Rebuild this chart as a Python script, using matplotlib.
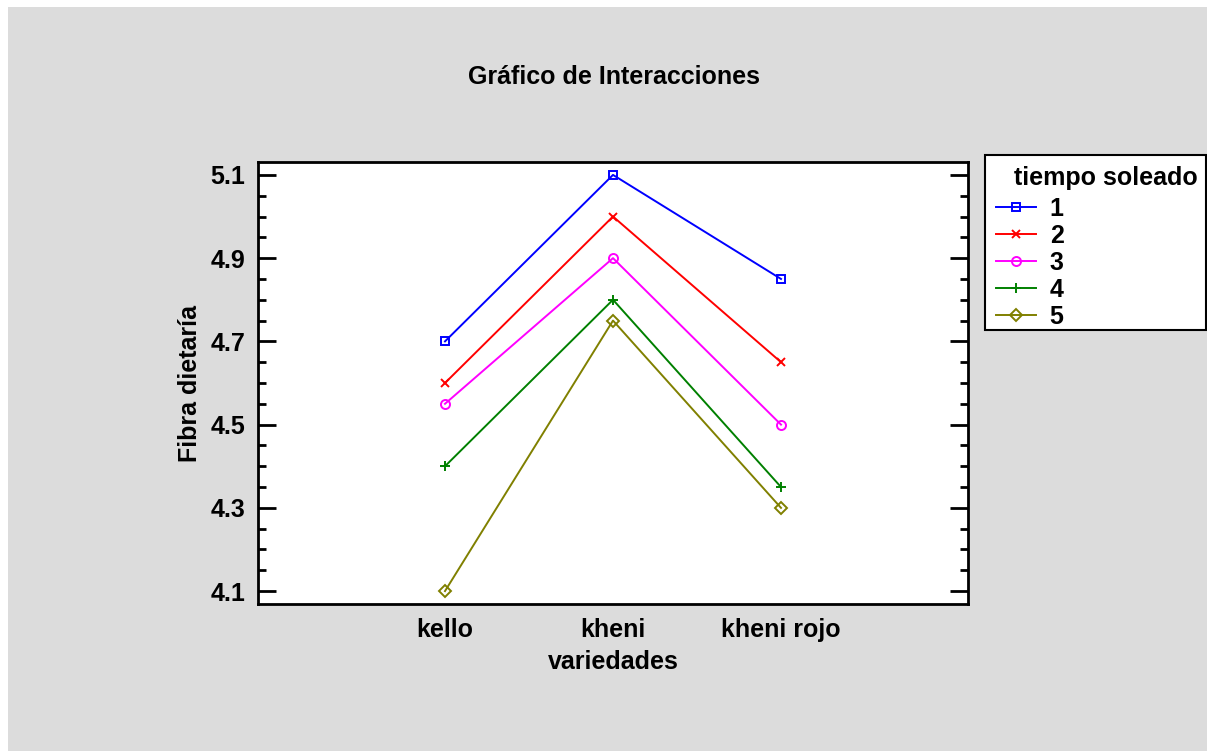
import matplotlib
matplotlib.use("Agg")
import matplotlib.pyplot as plt
from matplotlib.patches import Rectangle
from matplotlib.ticker import MultipleLocator

plt.rcParams['font.family'] = ['Liberation Sans', 'DejaVu Sans']
plt.rcParams['font.weight'] = 'bold'

categories = ["kello", "kheni", "kheni rojo"]
series_labels = ["1", "2", "3", "4", "5"]
s1 = [4.70, 5.10, 4.85]
s2 = [4.60, 5.00, 4.65]
s3 = [4.55, 4.90, 4.50]
s4 = [4.40, 4.80, 4.35]
s5 = [4.10, 4.75, 4.30]
series = [s1, s2, s3, s4, s5]
colors = ["#0000ff", "#ff0000", "#ff00ff", "#008000", "#808000"]
markers = ["s", "x", "o", "+", "D"]
msizes = [6, 6, 6.5, 7, 6.5]

FS = 18
W, H = 1207, 751
fig = plt.figure(figsize=(W / 100, H / 100), dpi=100, facecolor="white")
fig.patches.append(Rectangle((8 / W, 0), 1 - 8 / W, 1 - 7 / H, transform=fig.transFigure,
                             facecolor="#dcdcdc", edgecolor="none", zorder=-10))

ax = fig.add_axes([258 / W, 1 - 604 / H, (968 - 258) / W, (604 - 162) / H])
ax.set_facecolor("white")
x = list(range(len(categories)))
handles = []
for vals, c, m, ms, lab in zip(series, colors, markers, msizes, series_labels):
    h, = ax.plot(x, vals, color=c, lw=1.4, marker=m, ms=ms, mfc="none", mec=c, mew=1.4, label=lab)
    handles.append(h)

ax.set_xlim(-1.113, 3.113)
ax.set_ylim(4.069, 5.131)
ax.set_xticks(x)
ax.set_xticklabels(categories)
ax.yaxis.set_minor_locator(MultipleLocator(0.05))
ax.set_yticks([4.1, 4.3, 4.5, 4.7, 4.9, 5.1])
ax.set_yticklabels(["4.1", "4.3", "4.5", "4.7", "4.9", "5.1"])
ax.tick_params(axis="y", which="major", direction="in", length=13, width=2, left=True, right=True,
               labelsize=FS, pad=9)
ax.tick_params(axis="y", which="minor", direction="in", length=6, width=2, left=True, right=True)
ax.tick_params(axis="x", which="both", length=0, labelsize=FS, pad=10)
for sp in ax.spines.values():
    sp.set_linewidth(2)
for t in ax.get_xticklabels() + ax.get_yticklabels():
    t.set_fontweight("bold")

ax.set_ylabel("Fibra dietaría", fontsize=FS, fontweight="bold", labelpad=6)
ax.set_xlabel("variedades", fontsize=FS, fontweight="bold", labelpad=6)

fig.text(614 / W, 1 - 77 / H, "Gráfico de Interacciones", ha="center", va="center",
         fontsize=FS, fontweight="bold")

# legend box
fig.patches.append(Rectangle((985 / W, 1 - 330 / H), (1206 - 985) / W, (330 - 155) / H,
                             transform=fig.transFigure, facecolor="white", edgecolor="black",
                             linewidth=1.5, zorder=2))
fig.text(1106 / W, 1 - 178 / H, "tiempo soleado", ha="center", va="center",
         fontsize=FS, fontweight="bold", zorder=3)
leg = fig.legend(handles=handles, labels=series_labels, loc="upper left",
                 bbox_to_anchor=(996 / W, 1 - 197 / H), borderaxespad=0,
                 frameon=False, prop={"size": FS, "weight": "bold"},
                 handlelength=1.6, handletextpad=0.55, labelspacing=0.12,
                 borderpad=0)
leg.set_zorder(4)

fig.savefig("out.png", dpi=100, facecolor=fig.get_facecolor())
